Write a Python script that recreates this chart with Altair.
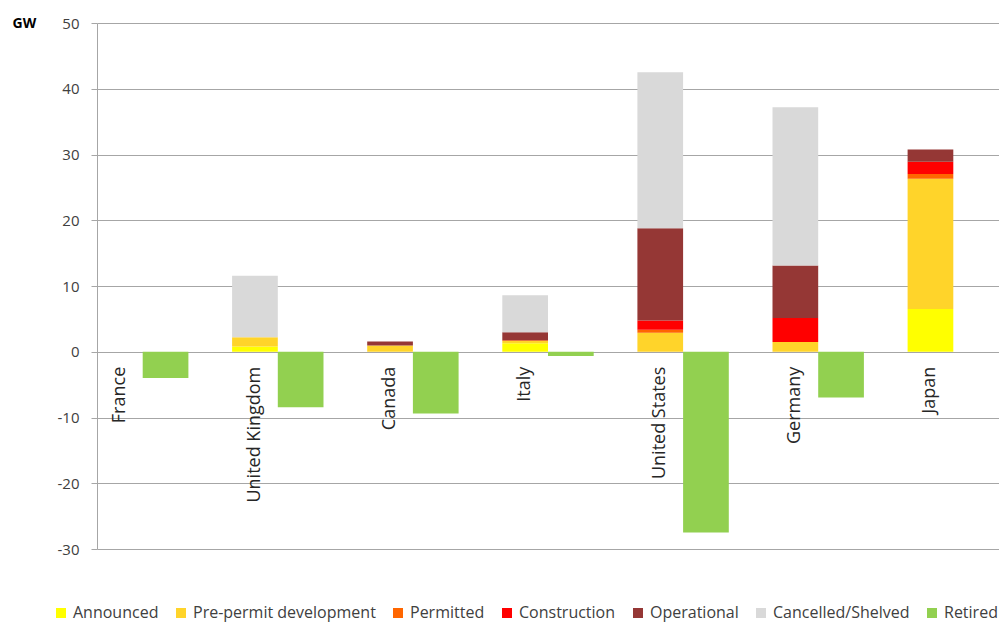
import altair as alt
import pandas as pd

countries = ["France", "United Kingdom", "Canada", "Italy", "United States", "Germany", "Japan"]
statuses = ["Announced", "Pre-permit development", "Permitted", "Construction",
            "Operational", "Cancelled/Shelved", "Retired"]
colors = ["#FFFF00", "#FFD42A", "#FF6600", "#FF0000", "#953735", "#D9D9D9", "#92D050"]

announced = [0, 0.8, 0, 1.3, 0, 0, 6.5]
prepermit = [0, 1.4, 0.95, 0.35, 2.9, 1.5, 19.8]
permitted = [0, 0, 0, 0.1, 0.45, 0, 0.75]
construction = [0, 0, 0, 0, 1.4, 3.65, 1.85]
operational = [0, 0, 0.6, 1.2, 14.05, 7.95, 1.85]
cancelled = [0, 9.35, 0, 5.65, 23.7, 24.1, 0]
retired = [-4.0, -8.45, -9.4, -0.65, -27.5, -6.95, 0]

series = [announced, prepermit, permitted, construction, operational, cancelled]

rows = []
for i, vals in enumerate(series):
    for c, v in zip(countries, vals):
        if v != 0:
            rows.append({"country": c, "status": statuses[i], "value": v, "kind": "pipeline", "ord": i})
for c, v in zip(countries, retired):
    if v != 0:
        rows.append({"country": c, "status": "Retired", "value": v, "kind": "retired", "ord": 6})
df = pd.DataFrame(rows)
labels_df = pd.DataFrame({"country": countries, "kind": ["pipeline"] * len(countries)})

FONT = "Open Sans"

x_enc = alt.X("country:N", sort=countries,
              scale=alt.Scale(domain=countries, paddingInner=0.3235, paddingOuter=0), axis=None)
xo_enc = alt.XOffset("kind:N", scale=alt.Scale(domain=["pipeline", "retired"], paddingInner=0, paddingOuter=0))

bars = alt.Chart(df).mark_bar().encode(
    x=x_enc,
    xOffset=xo_enc,
    y=alt.Y("value:Q", stack="zero",
            scale=alt.Scale(domain=[-30, 50], nice=False, zero=False),
            axis=alt.Axis(values=list(range(-30, 51, 10)), title="GW", titleAngle=0,
                          labelExpr="'' + datum.value",
                          titleAlign="left", titleBaseline="middle", titleX=-85, titleY=0,
                          titleFont=FONT, titleFontSize=14, titleFontWeight="bold", titleColor="#000000",
                          labelFont=FONT, labelFontSize=15, labelColor="#404040", labelPadding=12,
                          tickSize=6, tickColor="#A6A6A6", domainColor="#A6A6A6",
                          grid=True, gridColor="#A6A6A6", gridWidth=1)),
    color=alt.Color("status:N", scale=alt.Scale(domain=statuses, range=colors),
                    legend=alt.Legend(orient="none", legendX=-44, legendY=582, direction="horizontal",
                                      title=None, symbolType="square", symbolSize=100,
                                      symbolStrokeWidth=0, labelFont=FONT, labelFontSize=16,
                                      labelLimit=400,
                                      labelColor="#404040", columnPadding=14, labelOffset=4)),
    order=alt.Order("ord:Q", sort="ascending"),
)

texts = alt.Chart(labels_df).mark_text(angle=270, align="right", baseline="middle", dx=-15,
                                       font=FONT, fontSize=18, color="#262626").encode(
    x=x_enc,
    xOffset=xo_enc,
    y=alt.datum(0),
    text="country:N",
)

chart = alt.layer(bars, texts).properties(
    width=902, height=526,
    autosize=alt.AutoSizeParams(type="none"),
    padding={"left": 89, "top": 15, "right": 0, "bottom": 75},
).configure_view(stroke=None)

chart.save("out.html", embed_options={"renderer": "svg", "actions": False})
